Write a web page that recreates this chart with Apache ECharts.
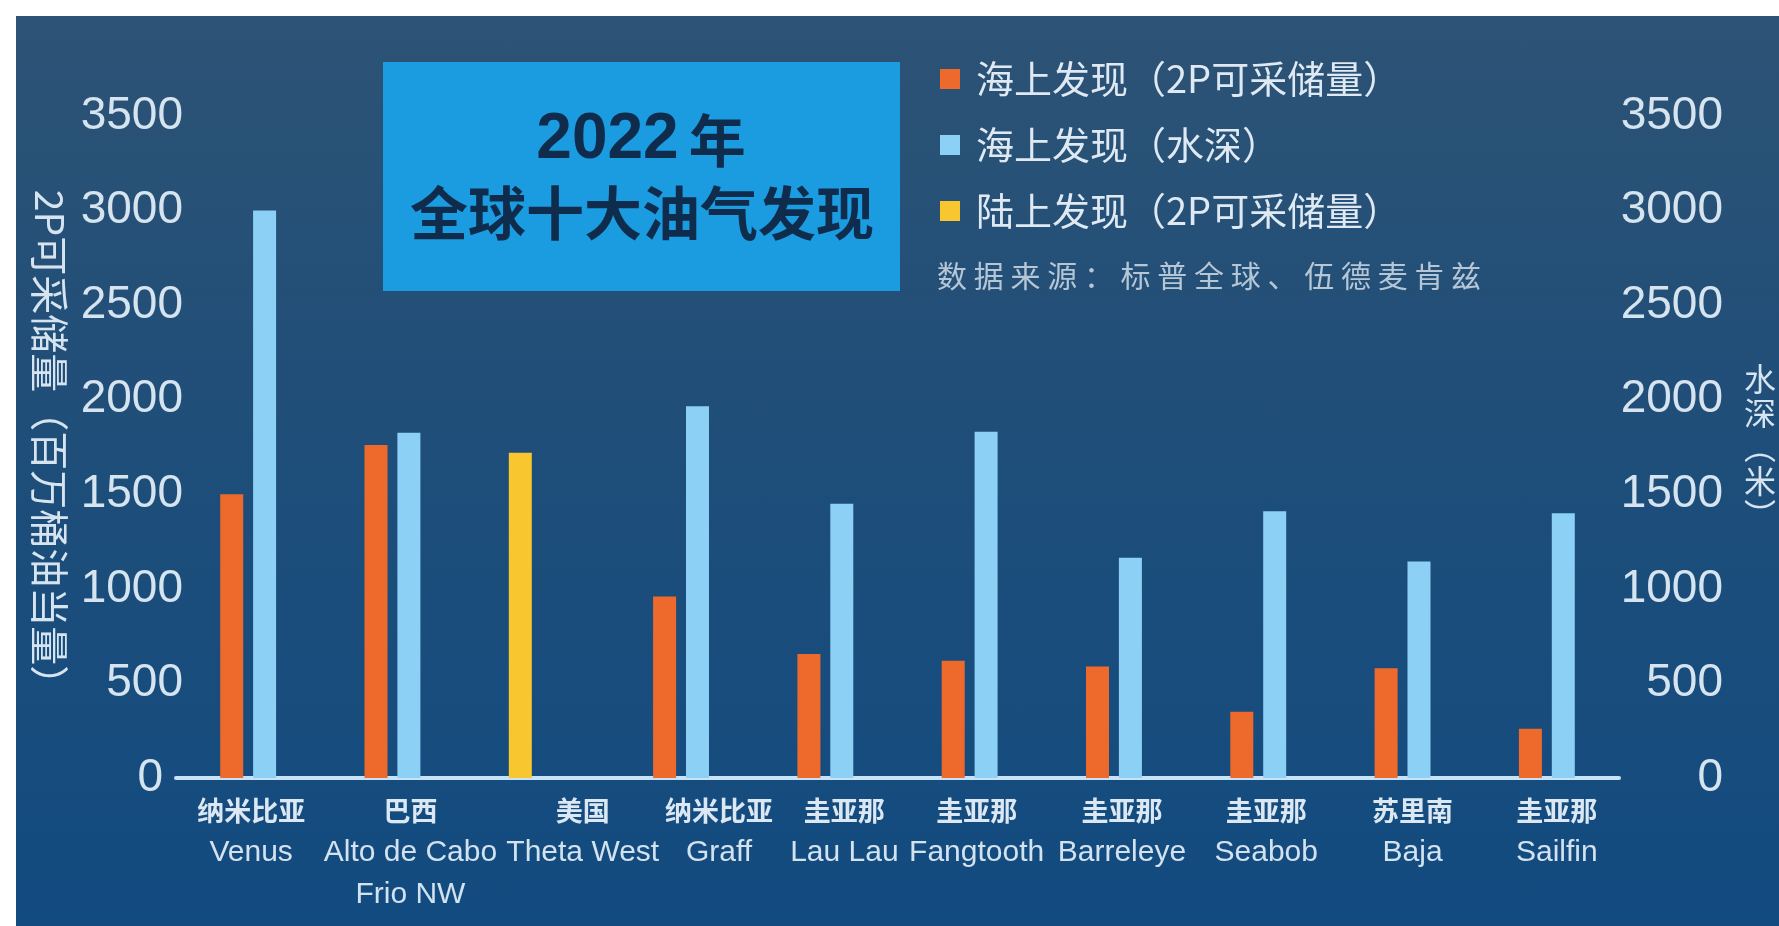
<!DOCTYPE html>
<html>
<head>
<meta charset="utf-8">
<script src="https://cdn.jsdelivr.net/npm/echarts@6/dist/echarts.min.js"></script>
<style>
html,body{margin:0;padding:0;background:#ffffff;}
#wrap{position:relative;width:1779px;height:926px;overflow:hidden;background:#ffffff;}
#panel{position:absolute;left:16px;top:16px;right:0;bottom:0;background:linear-gradient(180deg,#2d5375 0%,#1f4e79 45%,#124b80 100%);}
#chart{position:absolute;left:0;top:0;width:1779px;height:926px;}
</style>
</head>
<body>
<div id="wrap"><div id="panel"></div><div id="chart"></div></div>
<script>
// ---- data ----
const countries = ['纳米比亚','巴西','美国','纳米比亚','圭亚那','圭亚那','圭亚那','圭亚那','苏里南','圭亚那'];
const fields = ['Venus','Alto de Cabo\nFrio NW','Theta West','Graff','Lau Lau','Fangtooth','Barreleye','Seabob','Baja','Sailfin'];
const offshoreReserves = [1500, 1760, null, 960, 655, 620, 590, 350, 580, 260];
const offshoreDepth    = [3000, 1825, null, 1965, 1450, 1830, 1165, 1410, 1145, 1400];
const onshoreReserves  = [null, null, 1720, null, null, null, null, null, null, null];
const yTicks = [0, 500, 1000, 1500, 2000, 2500, 3000, 3500];
const seriesNames = ['海上发现（2P可采储量）', '海上发现（水深）', '陆上发现（2P可采储量）'];
const leftAxisName = '2P可采储量（百万桶油当量）';
const rightAxisName = '水深（米）';
const titleYear = '2022';
const titleYearSuffix = '年';
const titleMain = '全球十大油气发现';
const sourceText = '数据来源：标普全球、伍德麦肯兹';

// ---- layout (label nudges, px) ----
const labelNudge = [3, 18, 46, 38, 19, 7, 8, 8, 10, 10];

const categories = countries.map((c, i) => c + '|' + fields[i]);
const rich = {};
categories.forEach((_, i) => {
  const p = [0, 0, 0, 2 * labelNudge[i]];
  rich['c' + i] = {fontSize: 27, lineHeight: 42, color: '#dbe7f2', fontFamily: 'Noto Sans CJK SC', fontWeight: 'bold', padding: p};
  rich['e' + i] = {fontSize: 30, lineHeight: 42, color: '#d2e2ef', fontFamily: 'Liberation Sans', padding: p};
});

const txt = '#d6e4f0';
const tickFont = {color: txt, fontSize: 46, fontFamily: 'Liberation Sans'};
const chart = echarts.init(document.getElementById('chart'), null, {renderer: 'canvas'});
chart.setOption({
  backgroundColor: 'transparent',
  animation: false,
  grid: {left: 176, right: 158, top: 116, bottom: 148, containLabel: false},
  legend: {
    orient: 'vertical', left: 935, top: 51, itemWidth: 20, itemHeight: 20, itemGap: 20,
    icon: 'rect',
    data: seriesNames,
    textStyle: {color: '#dfe9f3', fontSize: 38, fontFamily: 'Noto Sans CJK SC', lineHeight: 46, padding: [0, 0, 0, 11]}
  },
  xAxis: {
    type: 'category', data: categories,
    axisLine: {show: true, lineStyle: {color: '#c6e3f7', width: 4}},
    axisTick: {show: false},
    axisLabel: {
      interval: 0, margin: 12, hideOverlap: false,
      formatter: (v, i) => {
        const [c, f] = v.split('|');
        const lines = ['{c' + i + '|' + c + '}'].concat(f.split('\n').map(l => '{e' + i + '|' + l + '}'));
        return lines.join('\n');
      },
      rich: rich
    }
  },
  yAxis: [
    {
      type: 'value', min: yTicks[0], max: yTicks[yTicks.length - 1], interval: yTicks[1] - yTicks[0],
      splitLine: {show: false}, axisLine: {show: false}, axisTick: {show: false},
      axisLabel: Object.assign({}, tickFont, {
        margin: -7,
        formatter: v => v === 0 ? '{z|0}' : String(v),
        rich: {z: Object.assign({}, tickFont, {padding: [0, 20, 0, 0]})}
      }),
      name: leftAxisName, nameLocation: 'middle', nameRotate: -90, nameGap: 104,
      nameTextStyle: {color: txt, fontSize: 39, fontFamily: 'Noto Sans CJK SC'}
    },
    {
      type: 'value', min: yTicks[0], max: yTicks[yTicks.length - 1], interval: yTicks[1] - yTicks[0],
      splitLine: {show: false}, axisLine: {show: false}, axisTick: {show: false},
      axisLabel: Object.assign({}, tickFont, {margin: 104, align: 'right', formatter: v => String(v)}),
      name: rightAxisName.split('').map(ch => ch === '（' ? '︵' : ch === '）' ? '︶' : ch).join('\n'),
      nameLocation: 'middle', nameRotate: 0, nameGap: 125,
      nameTextStyle: {color: txt, fontSize: 32, lineHeight: 34, fontFamily: 'Noto Sans CJK SC'}
    }
  ],
  series: [
    {name: seriesNames[0], type: 'bar', yAxisIndex: 0, stack: 'reserve', data: offshoreReserves,
     barWidth: 23, barGap: '43%', itemStyle: {color: '#ee6a2c'}},
    {name: seriesNames[1], type: 'bar', yAxisIndex: 1, data: offshoreDepth,
     barWidth: 23, barGap: '43%', itemStyle: {color: '#8dd0f5'}},
    {name: seriesNames[2], type: 'bar', yAxisIndex: 0, stack: 'reserve', data: onshoreReserves,
     barWidth: 23, barGap: '43%', itemStyle: {color: '#f8c62e'}}
  ],
  graphic: [
    {type: 'rect', left: 383, top: 62, shape: {width: 517, height: 229}, style: {fill: '#1b9be0'}, z: 1},
    {type: 'text', x: 641, y: 140, z: 2, style: {
      text: '{d|' + titleYear + '}{y|' + titleYearSuffix + '}', align: 'center', verticalAlign: 'middle',
      rich: {
        d: {fontSize: 64, fontFamily: 'Liberation Sans', fill: '#0f2c4c', fontWeight: 'bold'},
        y: {fontSize: 57, fontFamily: 'Noto Sans CJK SC', fill: '#0f2c4c', fontWeight: 'bold', padding: [0, 0, 0, 10]}
      }}},
    {type: 'text', x: 642, y: 213, z: 2, style: {
      text: titleMain, align: 'center', verticalAlign: 'middle',
      fontSize: 58, fontFamily: 'Noto Sans CJK SC', fontWeight: 'bold', fill: '#0f2c4c'}},
    {type: 'text', x: 937, y: 276, z: 2, style: {
      text: sourceText.split('').join(' '), align: 'left', verticalAlign: 'middle',
      fontSize: 30, fontFamily: 'Noto Sans CJK SC', fill: '#b5c6d6'}}
  ]
});
</script>
</body>
</html>
